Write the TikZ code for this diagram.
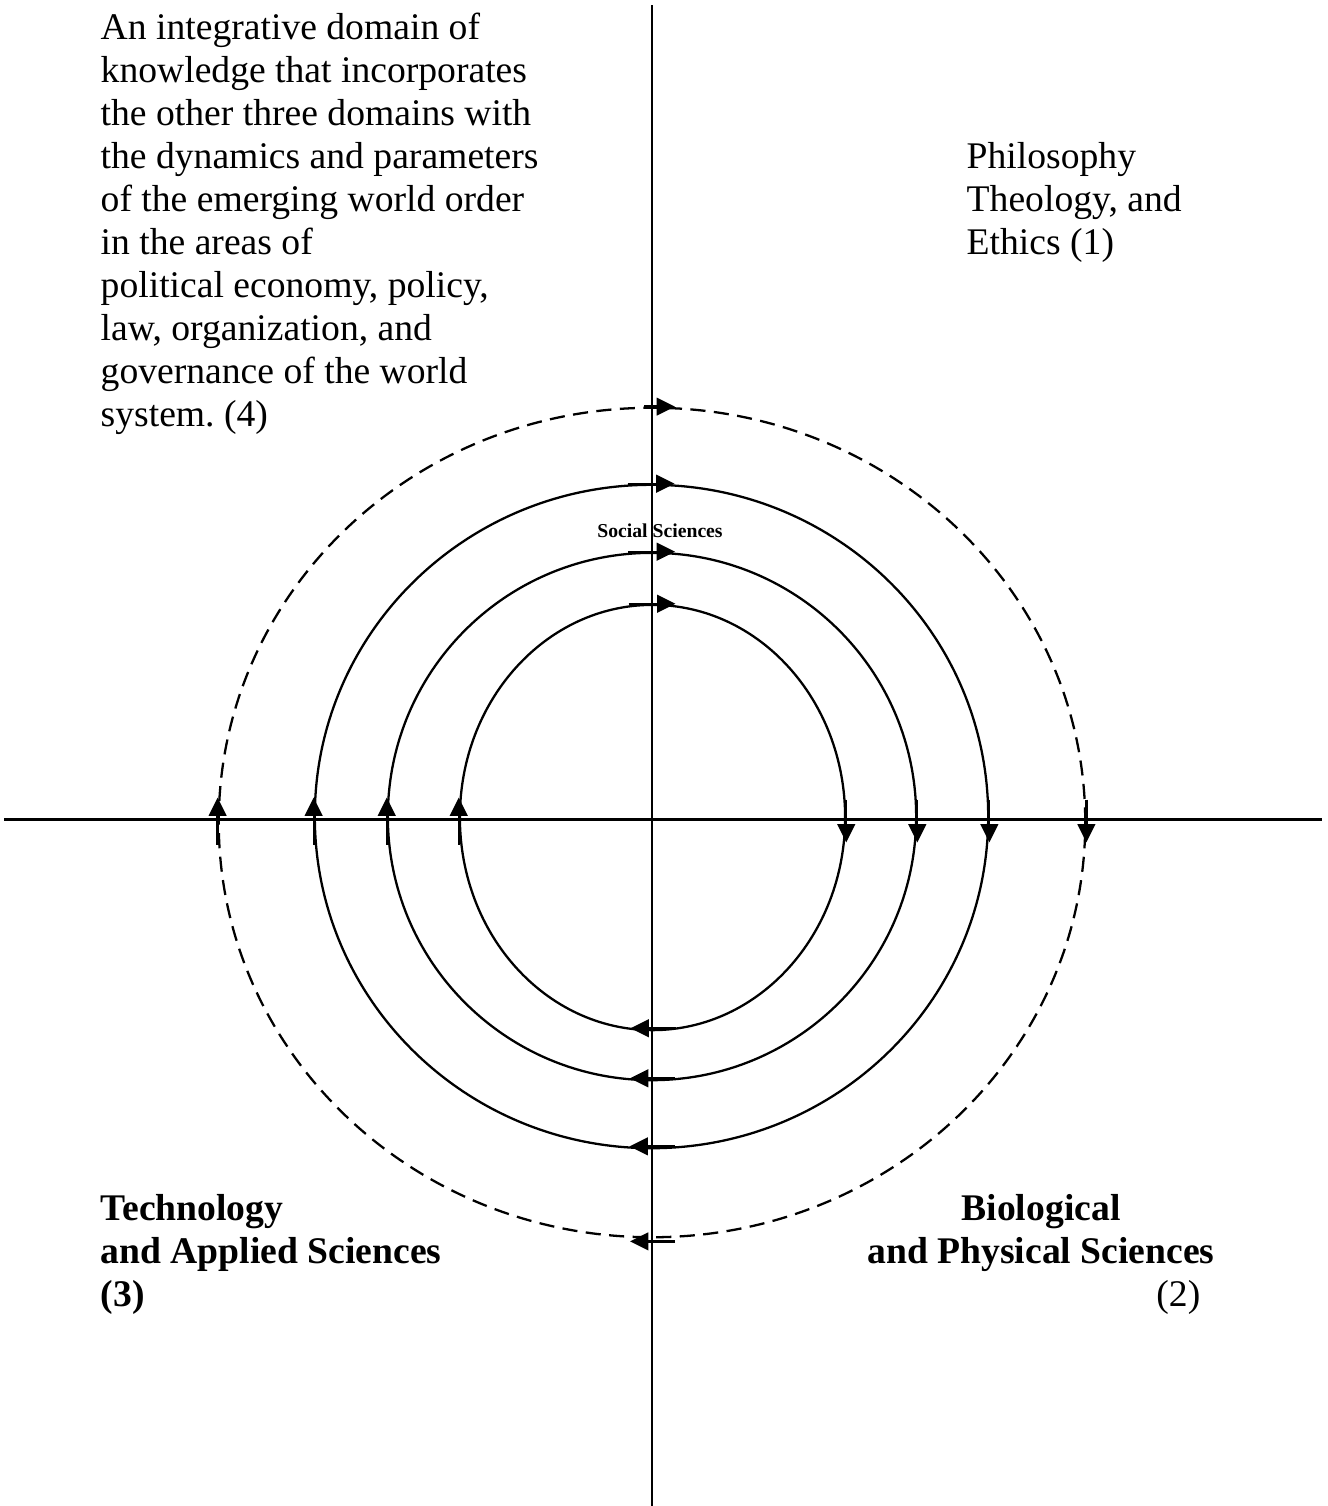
\documentclass[tikz,border=0pt]{standalone}
\usepackage{fontspec}
\setmainfont{Liberation Serif}
\usetikzlibrary{arrows.meta,calc,shapes.geometric}
\frenchspacing

\begin{document}
\begin{tikzpicture}[x=0.01cm,y=-0.01cm]

\tikzset{line/.style={draw,line width=0.7pt}}
\tikzset{arrow/.style={line,line width=0.65pt,-{Triangle[length=5.2pt,width=5pt]}}}
\tikzset{ring/.style={line,ellipse,inner sep=0pt,line width=0.65pt}}
\tikzset{broken/.style={dash pattern=on 4.3pt off 2.4pt}}
\tikzset{label/.style={inner sep=0pt,align=left,font=\fontsize{10.7}{12.2}\selectfont}}

\useasboundingbox (0,0) rectangle (1328,1506);

% axes
\coordinate (top) at (652,5);
\coordinate (bottom) at (652,1506);
\coordinate (left) at (4,819.5);
\coordinate (right) at (1322,819.5);
\path[line] (top) to (bottom);
\path[line] (left) to (right);

% rings
\node[ring,minimum width=3.85cm,minimum height=4.25cm] (r1) at (652.5,817.5) {};
\node[ring,minimum width=5.28cm,minimum height=5.27cm] (r2) at (652,816.5) {};
\node[ring,minimum width=6.73cm,minimum height=6.63cm] (r3) at (651.5,816.5) {};
\node[ring,broken,minimum width=8.66cm,minimum height=8.29cm] (r4) at (652,822.5) {};

% clockwise arrows
\path[arrow] ($(r1.north)+(-24,0)$) to ($(r1.north)+(23,0)$);
\path[arrow] ($(r1.east |- left)+(0,-20)$) to ($(r1.east |- left)+(0,23)$);
\path[arrow] ($(r1.south)+(23,-3)$) to ($(r1.south)+(-22,-3)$);
\path[arrow] ($(r1.west |- left)+(0,25)$) to ($(r1.west |- left)+(0,-22)$);

\path[arrow] ($(r2.north)+(-24,0)$) to ($(r2.north)+(23,0)$);
\path[arrow] ($(r2.east |- left)+(0,-20)$) to ($(r2.east |- left)+(0,23)$);
\path[arrow] ($(r2.south)+(23,-3)$) to ($(r2.south)+(-22,-3)$);
\path[arrow] ($(r2.west |- left)+(0,25)$) to ($(r2.west |- left)+(0,-22)$);

\path[arrow] ($(r3.north)+(-24,0)$) to ($(r3.north)+(23,0)$);
\path[arrow] ($(r3.east |- left)+(0,-20)$) to ($(r3.east |- left)+(0,23)$);
\path[arrow] ($(r3.south)+(23,-3)$) to ($(r3.south)+(-22,-3)$);
\path[arrow] ($(r3.west |- left)+(0,25)$) to ($(r3.west |- left)+(0,-22)$);

\path[arrow] ($(r4.north)+(-8,0)$) to ($(r4.north)+(23,0)$);
\path[arrow] ($(r4.east |- left)+(0,-20)$) to ($(r4.east |- left)+(0,23)$);
\path[arrow] ($(r4.south)+(23,3)$) to ($(r4.south)+(-22,3)$);
\path[arrow] ($(r4.west |- left)+(0,25)$) to ($(r4.west |- left)+(0,-22)$);

\node[inner sep=0pt,anchor=base,font=\bfseries\fontsize{5.6}{6}\selectfont] (social) at (660,537) {Social Sciences};

% domains (base = last line)
\node[label,anchor=base west] (integrative) at (100,426) {An integrative domain of\\
knowledge that incorporates\\
the other three domains with\\
the dynamics and parameters\\
of the emerging world order\\
in the areas of\\
political economy, policy,\\
law, organization, and\\
governance of the world\\
system. (4)};
\node[label,anchor=base west] (philosophy) at (966,254) {Philosophy\\ Theology, and\\ Ethics (1)};
\node[label,anchor=base west,font=\bfseries\fontsize{10.7}{12.2}\selectfont] (technology) at (100,1306) {Technology\\ and Applied Sciences\\ (3)};
\node[label,align=center,anchor=base,font=\bfseries\fontsize{10.7}{12.2}\selectfont] (biological) at (1041,1263) {Biological\\ and Physical Sciences};
\node[label,anchor=base east] (two) at (1201,1306) {(2)};

\end{tikzpicture}
\end{document}
